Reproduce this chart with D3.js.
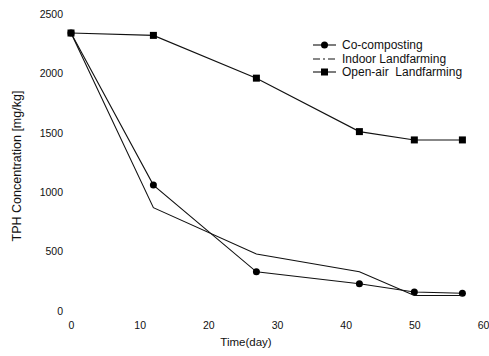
<html>
<head>
  <meta charset="UTF-8">
  <title>TPH Concentration</title>
  <style>
    body { margin: 0; padding: 0; background: #fff; }
    svg text { font-family: "Liberation Sans", Arial, sans-serif; fill: #111; }
  </style>
</head>
<body>
  <div id="chart"></div>
  <script src="https://cdnjs.cloudflare.com/ajax/libs/d3/7.8.4/d3.min.js"></script>
  <script>
    // data
    const days = [0, 12, 27, 42, 50, 57];
    const coComposting = [2340, 1060, 330, 230, 160, 150];
    const indoorLandfarming = [2340, 870, 480, 330, 130, 130];
    const openAirLandfarming = [2340, 2320, 1960, 1510, 1440, 1440];
    const xTicks = [0, 10, 20, 30, 40, 50, 60];
    const yTicks = [0, 500, 1000, 1500, 2000, 2500];

    const width = 489;
    const height = 356;

    const svg = d3.select("#chart")
      .append("svg")
      .attr("width", width)
      .attr("height", height);

    const x = d3.scaleLinear().domain([0, 60]).range([71, 483]);
    const y = d3.scaleLinear().domain([0, 2500]).range([311, 14]);

    // axes: only labels, no lines
    const yAxis = svg.append("g")
      .attr("transform", "translate(63,0)")
      .call(d3.axisLeft(y).tickValues(yTicks).tickSize(0).tickPadding(0).tickFormat(d3.format("d")));
    const xAxis = svg.append("g")
      .attr("transform", "translate(0,322)")
      .call(d3.axisBottom(x).tickValues(xTicks).tickSize(0).tickPadding(0).tickFormat(d3.format("d")));
    [xAxis, yAxis].forEach(g => {
      g.select(".domain").remove();
      g.selectAll("text").attr("font-size", 10.5).attr("font-family", null);
    });

    svg.append("text")
      .attr("x", 246).attr("y", 346)
      .attr("text-anchor", "middle")
      .attr("font-size", 11.5)
      .text("Time(day)");

    svg.append("text")
      .attr("transform", "translate(21,166) rotate(-90)")
      .attr("text-anchor", "middle")
      .attr("font-size", 12.5)
      .text("TPH Concentration [mg/kg]");

    const series = [
      { name: "Co-composting", values: coComposting, marker: "circle" },
      { name: "Indoor Landfarming", values: indoorLandfarming, marker: "none" },
      { name: "Open-air  Landfarming", values: openAirLandfarming, marker: "square" }
    ];

    const line = d3.line()
      .x((d, i) => x(days[i]))
      .y(d => y(d));

    function drawMarker(g, type, cx, cy) {
      if (type === "circle") {
        g.append("circle").attr("cx", cx).attr("cy", cy).attr("r", 3.5).attr("fill", "#000");
      } else if (type === "square") {
        g.append("rect").attr("x", cx - 3.5).attr("y", cy - 3.5)
          .attr("width", 7).attr("height", 7).attr("fill", "#000");
      }
    }

    series.forEach(s => {
      svg.append("path")
        .datum(s.values)
        .attr("d", line)
        .attr("fill", "none")
        .attr("stroke", "#111")
        .attr("stroke-width", 1.1);
      const g = svg.append("g");
      s.values.forEach((v, i) => drawMarker(g, s.marker, x(days[i]), y(v)));
    });

    // legend
    const legendY = [45, 59, 72];
    const legendDash = [null, "7,3,2,3", null];
    series.forEach((s, i) => {
      const g = svg.append("g");
      g.append("line")
        .attr("x1", 313).attr("x2", 336)
        .attr("y1", legendY[i]).attr("y2", legendY[i])
        .attr("stroke", "#111")
        .attr("stroke-width", 1.1)
        .attr("stroke-dasharray", legendDash[i]);
      drawMarker(g, s.marker, 324.5, legendY[i]);
      g.append("text")
        .attr("x", 342).attr("y", legendY[i] + 4)
        .attr("font-size", 12)
        .attr("xml:space", "preserve")
        .text(s.name);
    });
  </script>
</body>
</html>
